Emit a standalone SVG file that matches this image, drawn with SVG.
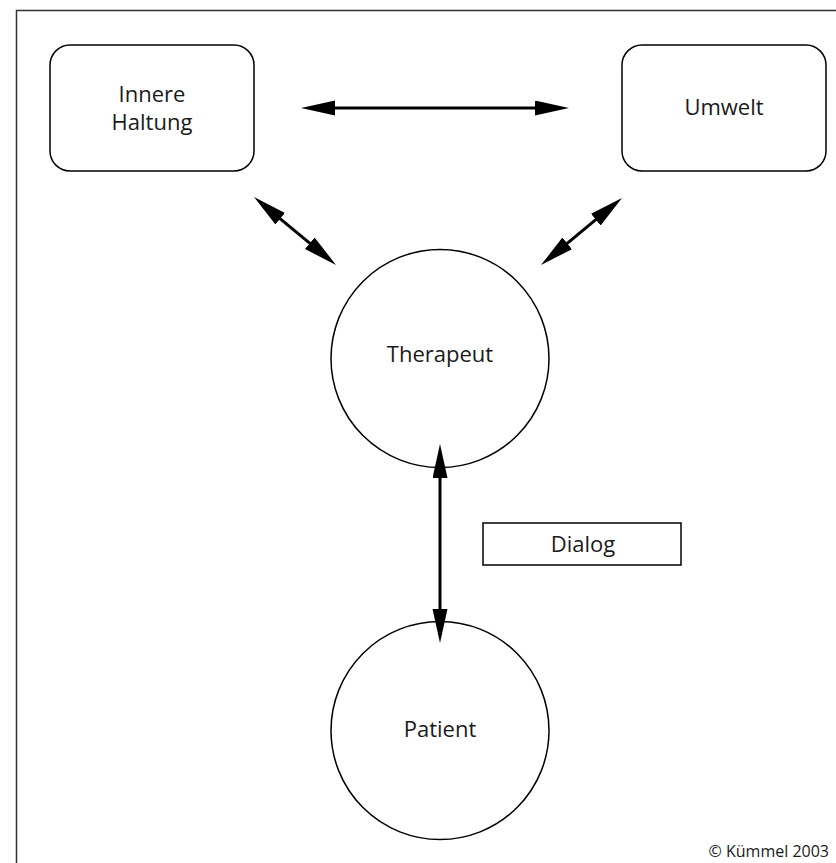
<svg xmlns="http://www.w3.org/2000/svg" width="836" height="863" viewBox="0 0 836 863">
  <style>
    .frame { fill: none; stroke: #333; stroke-width: 1.5; }
    .node { fill: #fff; stroke: #000; stroke-width: 1.5; }
    .label { font-family: "Open Sans", "Liberation Sans", sans-serif; font-size: 22px; fill: #1a1a1a; text-anchor: middle; }
    .credit { font-family: "Open Sans", "Liberation Sans", sans-serif; font-size: 16px; fill: #1a1a1a; text-anchor: end; }
    .link { fill: none; stroke: #000; stroke-width: 3; marker-start: url(#head); marker-end: url(#head); }
  </style>
  <defs>
    <marker id="head" markerUnits="userSpaceOnUse" markerWidth="40" markerHeight="20" refX="14" refY="7.5" orient="auto-start-reverse">
      <path d="M0,0 L34,7.5 L0,15 Z" fill="#000"/>
    </marker>
  </defs>

  <rect width="836" height="863" fill="#fff"/>
  <!-- outer frame, runs off the right and bottom edges -->
  <path class="frame" d="M16.5,900 L16.5,10.5 L900,10.5"/>

  <g id="innere-haltung">
    <rect class="node" x="50" y="45" width="204" height="126" rx="20" ry="20"/>
    <text class="label" x="152" y="102">Innere</text>
    <text class="label" x="152" y="130">Haltung</text>
  </g>

  <g id="umwelt">
    <rect class="node" x="622" y="45" width="204" height="126" rx="20" ry="20"/>
    <text class="label" x="724" y="115">Umwelt</text>
  </g>

  <g id="therapeut">
    <circle class="node" cx="440" cy="358.5" r="109"/>
    <text class="label" x="440" y="362">Therapeut</text>
  </g>

  <g id="patient">
    <circle class="node" cx="440" cy="730.5" r="109"/>
    <text class="label" x="440" y="737">Patient</text>
  </g>

  <g id="dialog">
    <rect class="node" x="483" y="523" width="198" height="42"/>
    <text class="label" x="583" y="552">Dialog</text>
  </g>

  <g id="connectors">
    <line class="link" x1="321" y1="108" x2="549" y2="108"/>
    <line class="link" x1="269.4" y1="209.8" x2="320.6" y2="252.2"/>
    <line class="link" x1="606.6" y1="210.7" x2="556.4" y2="252.3"/>
    <line class="link" x1="440" y1="464" x2="440" y2="623"/>
  </g>

  <text class="credit" x="829" y="857">© Kümmel 2003</text>
</svg>
